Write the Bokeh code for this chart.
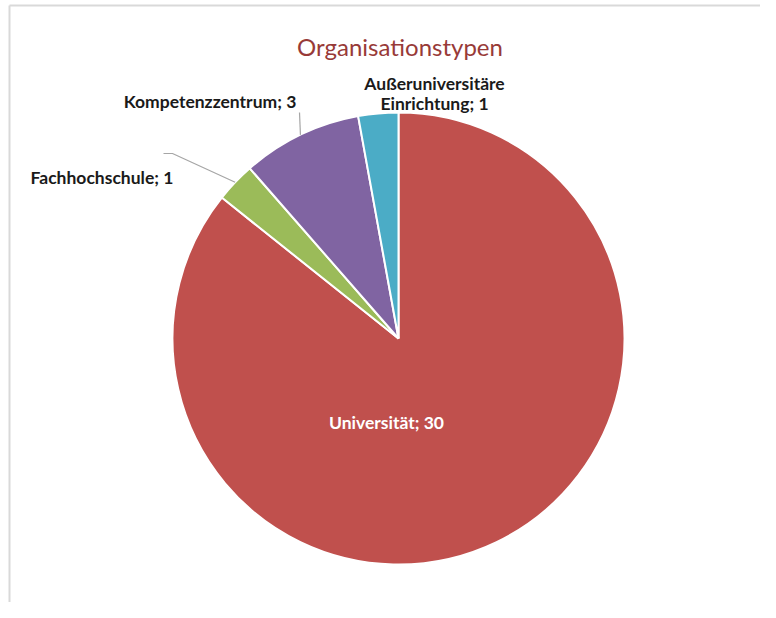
import math
from bokeh.plotting import figure
from bokeh.models import Range1d, ColumnDataSource
from bokeh.core.properties import value
from bokeh.embed import file_html
from bokeh.resources import INLINE

# ---- data ----
title = "Organisationstypen"
categories = ["Universität", "Fachhochschule", "Kompetenzzentrum", "Außeruniversitäre Einrichtung"]
counts = [30, 1, 3, 1]
colors = ["#C0504D", "#9BBB59", "#8064A2", "#4BACC6"]

# ---- layout (picture pixel coordinates, y downward) ----
W, H = 760, 602
TOP = 618
def px(x): return x
def py(y): return TOP - y

cx, cy, R = 398, 338, 226
label_pos = [(386, 422), (101.5, 177), (209.5, 101), (434, 83)]   # centre x, baseline of first line
label_color = ["white", "#1a1a1a", "#1a1a1a", "#1a1a1a"]
wrap = [False, False, False, True]
line_step = 20
leader_start = [None, [(163, 153), (172, 153)], [(299, 112)], None]

p = figure(width=W, height=H, output_backend="svg", toolbar_location=None,
           x_range=Range1d(0, W), y_range=Range1d(TOP - H, TOP),
           min_border=0)
p.xaxis.visible = False
p.yaxis.visible = False
p.grid.visible = False
p.outline_line_color = None
p.background_fill_color = "white"
p.border_fill_color = "white"

total = sum(counts)
starts, ends, mids = [], [], []
cum = 0
for c in counts:
    a0 = math.pi / 2 - 2 * math.pi * (cum + c) / total
    a1 = math.pi / 2 - 2 * math.pi * cum / total
    starts.append(a0); ends.append(a1); mids.append((a0 + a1) / 2)
    cum += c

src = ColumnDataSource(dict(start=starts, end=ends, color=colors))
p.wedge(x=px(cx), y=py(cy), radius=R, start_angle="start", end_angle="end",
        fill_color="color", line_color="white", line_width=2, source=src)

# leader lines
for i, pts in enumerate(leader_start):
    if pts is None:
        continue
    ex = cx + R * math.cos(mids[i])
    ey = cy - R * math.sin(mids[i])
    xs = [px(x) for x, _ in pts] + [px(ex)]
    ys = [py(y) for _, y in pts] + [py(ey)]
    p.line(xs, ys, line_color="#a6a6a6", line_width=1.2)

# labels
for i, cat in enumerate(categories):
    txt = f"{cat}; {counts[i]}"
    lines = txt.split(" ", 1) if wrap[i] else [txt]
    lx, ly = label_pos[i]
    for k, ln in enumerate(lines):
        p.text(x=[px(lx)], y=[py(ly + k * line_step)], text=[ln], text_align="center",
               text_baseline="alphabetic",
               text_font=value("Lato"), text_font_style="bold", text_font_size="17.5px",
               text_color=label_color[i])

# title
p.text(x=[px(399.5)], y=[py(46)], text=[title], text_align="center", text_baseline="alphabetic",
       text_font=value("Lato"), text_font_size="24px", text_color="#983a38")

# frame (top and left edges visible in the reference)
p.line([px(9), px(9)], [py(H + 2), py(5)], line_color="#d9d9d9", line_width=2)
p.line([px(9), px(W + 2)], [py(5), py(5)], line_color="#d9d9d9", line_width=2)

open("out.html", "w").write(file_html(p, INLINE))
